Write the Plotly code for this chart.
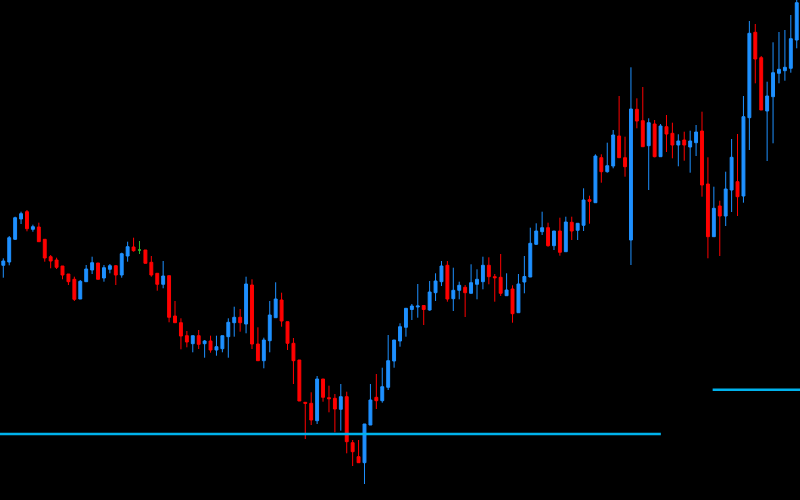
import plotly.graph_objects as go

# Candle index (time axis, no labels visible)
bars = list(range(135))

opens = [234.7, 238, 260.7, 281, 288.3, 270.7, 273, 260.7, 243.3, 240,
         234, 226, 220.7, 201, 218.3, 230, 237, 222, 230.7, 234.3,
         225, 244, 253, 250, 250, 237.7, 226.7, 215.7, 224.3, 184,
         177.3, 164.3, 156.3, 164.3, 156.3, 159, 150, 151.3, 163.3, 177.3,
         182.7, 176, 215, 156, 139.3, 159.3, 182.3, 200, 178.3, 156.7,
         140, 97.7, 96.7, 79.3, 121, 102.3, 101.7, 90.7, 103.3, 57.3,
         43.3, 37.3, 75, 102.7, 99.3, 112.7, 139, 159, 172.7, 190.5,
         193, 194.5, 190, 207.3, 218.3, 234.7, 201.3, 209.7, 212.7, 206.7,
         215.7, 218.3, 234.7, 223.3, 222.7, 204.3, 211, 187.3, 218, 223,
         255.7, 268.3, 272.3, 254.3, 269, 248.3, 277.7, 269.7, 274.7, 300.3,
         297.3, 342.3, 328.3, 334, 364, 342.3, 260, 390.7, 379.3, 354.3,
         376, 343.3, 373.3, 366.7, 355, 360, 353, 357.3, 369, 316,
         263.3, 294, 284, 310, 318.3, 304, 382.3, 467.7, 442.3, 389,
         403.3, 426.7, 429.3, 431.7, 460]
highs = [241.7, 264, 283.3, 288.3, 290, 275.3, 277.3, 260.7, 245, 242.3,
         234, 226, 223.3, 220, 235, 243.3, 237, 235, 236, 235,
         247.3, 258.3, 262.3, 259, 250, 244, 226.7, 239, 224.3, 199,
         181.7, 169, 164.3, 170, 160, 164.3, 164.3, 164.3, 181.7, 193.3,
         191, 223.3, 220.7, 172.7, 162.3, 199, 217.7, 207.3, 178.3, 162,
         140, 97.7, 107.7, 124, 121, 114.3, 106, 116, 108.3, 60,
         60, 76, 116, 126, 132.3, 165, 160, 176.7, 191.7, 196,
         216, 194.5, 219, 226.7, 239, 239, 232.3, 218.3, 215, 235.7,
         230.7, 243.3, 242.7, 226, 246, 226.7, 214.7, 226, 244, 272.3,
         276.7, 288.3, 277.3, 269, 282.3, 283.3, 283.3, 276.7, 311.7, 304.3,
         345.7, 345.7, 357.3, 370, 404, 363.3, 432.7, 401.7, 413, 381.7,
         380, 376, 385, 377.3, 365.7, 368.3, 369.3, 375, 388.3, 342.7,
         313.3, 299.3, 328.3, 361, 366, 404, 479, 476, 444, 418.3,
         457.7, 468, 470, 485, 500]
lows = [222.3, 234.7, 260, 276, 268.7, 268.3, 258.3, 238.3, 231.7, 231,
        220.7, 215, 199, 201, 218.3, 226, 220.7, 218.3, 226.7, 215,
        222.3, 238.3, 248.3, 246, 236.7, 223.3, 209.3, 211.7, 177.7, 177.3,
        150.7, 152.7, 147.7, 151, 142.3, 147.3, 144.3, 147.7, 142.3, 163.3,
        168.3, 166.7, 151, 139.3, 131.7, 147.7, 182.3, 173.3, 150, 116,
        99, 61, 75, 76, 98.3, 87.7, 67.7, 69.3, 46.7, 34,
        37.3, 16, 75, 91, 97.3, 110, 132.3, 153.3, 163.3, 180,
        182.3, 175, 189.3, 199, 214, 198.3, 189, 200.7, 183, 206.7,
        200.7, 210.7, 215.7, 198.3, 204, 204.3, 177.3, 187.3, 206.7, 223,
        255, 265, 253.3, 250, 244.3, 248.3, 260, 260, 269, 276.3,
        297.3, 317.3, 327.3, 331.7, 342.3, 323.3, 235, 371.7, 353.3, 310,
        342.7, 343.3, 348, 341.7, 333.7, 339.3, 327.3, 344, 303.3, 241.7,
        263.3, 244, 274, 288, 284, 297.3, 350, 416.7, 390, 339,
        356.7, 416.7, 419.3, 427.3, 451.7]
closes = [239, 262.3, 282.3, 286.3, 271.3, 273.3, 258.3, 242, 239, 232.7,
          225, 218.3, 200.7, 218.7, 231, 237.3, 220.7, 232.3, 234.3, 225,
          246.3, 253.3, 249.3, 250, 236.7, 225, 215.7, 224, 182.7, 177.3,
          164, 158, 164.3, 155.7, 159, 150, 153.3, 164.3, 177.7, 182.7,
          177.3, 216, 156, 139.3, 160, 185, 201, 179, 156.7, 139.3,
          99, 96.7, 80, 121, 102.7, 101.3, 91, 103.3, 58.3, 48.3,
          37.3, 76, 100, 99.3, 113.3, 139.3, 160, 173.3, 191.7, 194,
          194, 190.5, 208, 219, 234, 201, 209.7, 214.7, 207.3, 217.3,
          220.7, 234.7, 223.3, 222.3, 206.7, 210, 186.3, 216, 223.5, 256.7,
          269, 272.3, 254.3, 269, 247.7, 278, 269, 276.7, 300, 298.7,
          344, 328.3, 334.3, 365, 342.3, 333.3, 391, 379, 353.3, 377.3,
          343.3, 374, 366, 355, 359, 355, 359, 368, 315, 263.3,
          291.7, 284, 311, 342.7, 303.3, 383.3, 466.7, 441, 390, 404,
          427.3, 430.7, 432.7, 461.3, 497.3]

# Neutral (doji) candle drawn in green
neutral_bars = [23]

# Horizontal levels: price, start bar, end bar
level_prices = [66, 110.3]
level_starts = [-0.6, 119.8]
level_ends = [111.05, 134.6]

UP = "#1e90ff"
DOWN = "#ff0000"
NEUTRAL = "#2db52d"
LEVEL = "#00b2ec"

def pick(arr, keep):
    return [v if keep(i) else None for i, v in enumerate(arr)]

main = lambda i: i not in neutral_bars
neut = lambda i: i in neutral_bars

fig = go.Figure()
fig.add_trace(go.Candlestick(
    x=bars, open=pick(opens, main), high=pick(highs, main),
    low=pick(lows, main), close=pick(closes, main),
    increasing=dict(line=dict(color=UP, width=1), fillcolor=UP),
    decreasing=dict(line=dict(color=DOWN, width=1), fillcolor=DOWN),
    hoverinfo="skip",
))
fig.add_trace(go.Candlestick(
    x=bars, open=pick(opens, neut), high=pick(highs, neut),
    low=pick(lows, neut), close=pick(closes, neut),
    increasing=dict(line=dict(color=NEUTRAL, width=1), fillcolor=NEUTRAL),
    decreasing=dict(line=dict(color=NEUTRAL, width=1), fillcolor=NEUTRAL),
    hoverinfo="skip",
))
for p, s, e in zip(level_prices, level_starts, level_ends):
    fig.add_trace(go.Scatter(x=[s, e], y=[p, p], mode="lines",
                             line=dict(color=LEVEL, width=2.5),
                             hoverinfo="skip"))

fig.update_layout(
    width=800, height=500,
    margin=dict(l=0, r=0, t=0, b=0),
    paper_bgcolor="black", plot_bgcolor="black",
    showlegend=False,
    xaxis=dict(range=[-0.557, 134.55], visible=False, rangeslider=dict(visible=False)),
    yaxis=dict(range=[0, 500], visible=False),
)
fig.write_html(
    "out.html",
    config={"displayModeBar": False},
    post_script="document.body.style.margin='0';document.body.style.background='black';document.body.style.overflow='hidden';",
)
